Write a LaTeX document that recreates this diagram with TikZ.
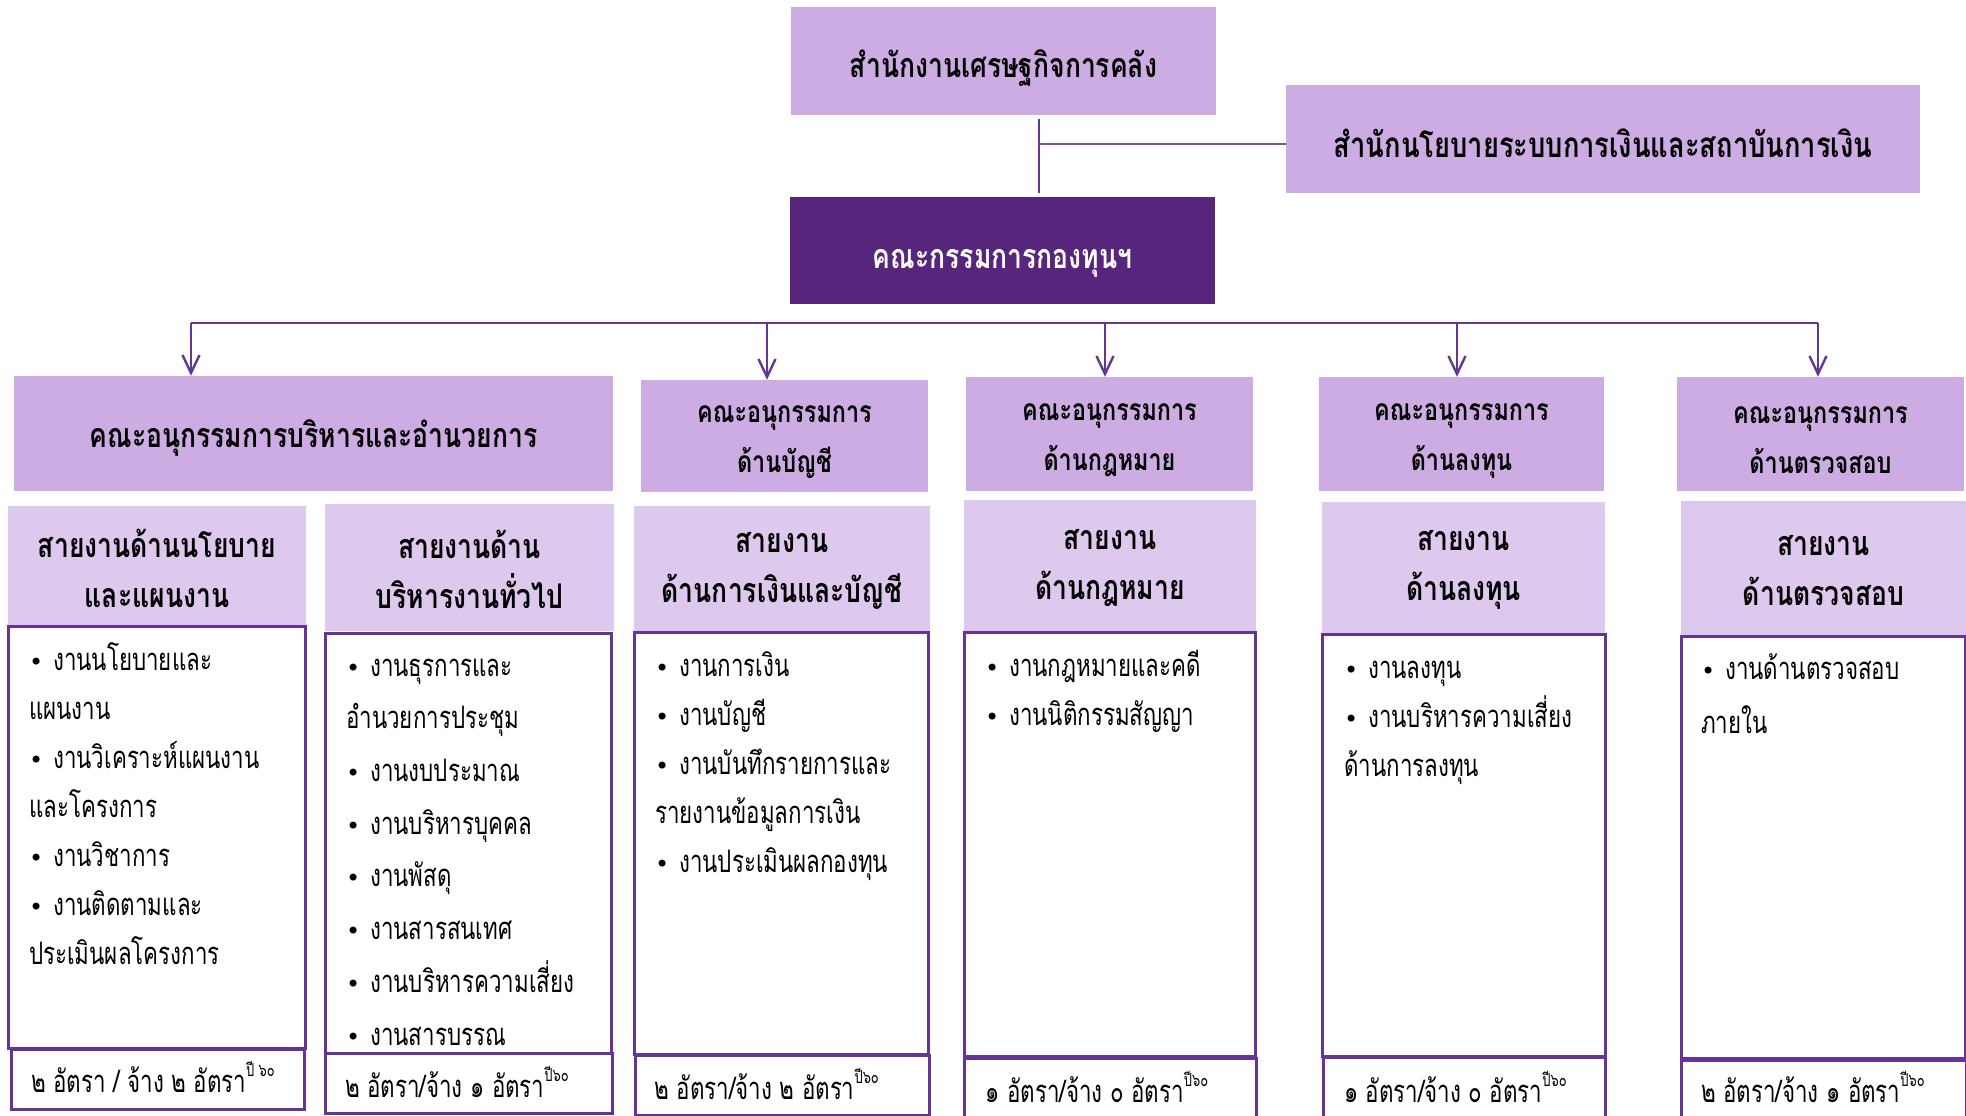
\documentclass[tikz,border=0pt]{standalone}
\usepackage{fontspec}
\newfontfamily\thai[Script=Thai,FakeStretch=0.78]{Loma}
\newfontfamily\thair[Script=Thai,FakeStretch=0.72]{Loma}
\newfontfamily\bulfont{DejaVu Sans}
\usetikzlibrary{arrows.meta}
\definecolor{lilac}{RGB}{205,172,228}
\definecolor{lightlilac}{RGB}{221,200,238}
\definecolor{darkpurple}{RGB}{87,37,124}
\definecolor{bordercol}{RGB}{102,51,153}
\definecolor{linecol}{RGB}{98,56,146}
\newcommand\bul{{\bulfont\fontsize{24}{24}\selectfont •}}
\newcommand\bl{\makebox[24pt][l]{\hspace{0pt}\bul}}
\newcommand\sups[1]{\raisebox{0.5em}{\fontsize{18}{18}\selectfont #1}}
\newcommand\dn[2]{\raisebox{-#1pt}[\height][\depth]{#2}}
\tikzset{
  titlebox/.style={fill=lilac, inner sep=0pt, align=center, font=\thai\bfseries\fontsize{34}{40}\selectfont},
  darkbox/.style={fill=darkpurple, text=white, inner sep=0pt, align=center, font=\thai\bfseries\fontsize{34}{40}\selectfont},
  combox/.style={fill=lilac, inner sep=0pt, align=center, font=\thai\bfseries\fontsize{30}{50}\selectfont},
  headbox/.style={fill=lightlilac, inner sep=0pt, align=center, font=\thai\bfseries\fontsize{34}{50}\selectfont},
  listbox/.style={draw=bordercol, line width=3pt, fill=white, inner sep=0pt},
  footbox/.style={draw=bordercol, line width=3pt, fill=white, inner sep=0pt},
  listtxt/.style={anchor=mid west, inner sep=0pt, font=\thair\fontsize{31}{36}\selectfont},
  conn/.style={draw=linecol, line width=1.4pt},
  conn2/.style={draw=linecol!85, line width=2.2pt},
  bus/.style={draw=linecol, line width=2pt},
  arr/.style={draw=linecol, line width=2.4pt, -{Straight Barb[length=18pt,width=17pt,line width=2.4pt]}}
}
\newcommand\listat[5]{%
  \foreach [count=\i] \itm in {#5} {\node[listtxt] (#1-\i) at (#2, {#3+(\i-1)*#4}) {\itm};}}
\begin{document}
\begin{tikzpicture}[x=1pt,y=-1pt]
\path[use as bounding box] (0,0) rectangle (1966,1116);
\clip (0,0) rectangle (1966,1116);
\fill[white] (0,0) rectangle (1966,1116);
% top level
\node[titlebox, minimum width=425pt, minimum height=108pt] (top) at (1003.5,61) {\dn{7.5}{สำนักงานเศรษฐกิจการคลัง}};
\node[titlebox, minimum width=634pt, minimum height=108pt, font=\thai\bfseries\fontsize{35}{40}\selectfont] (right) at (1603,139) {\dn{4}{สำนักนโยบายระบบการเงินและสถาบันการเงิน}};
\node[darkbox, minimum width=425pt, minimum height=107pt] (dark) at (1002.5,250.5) {\dn{13}{คณะกรรมการกองทุนฯ}};
\coordinate (j) at (1039,144);
\draw[conn] ([yshift=-4pt]top.south -| j) -- ([yshift=4pt]dark.north -| j);
\draw[conn2] (j) -- (right.west |- j);
% committees
\node[combox, minimum width=599pt, minimum height=115pt, font=\thai\bfseries\fontsize{34}{40}\selectfont] (c1) at (313.5,433.5) {\dn{4}{คณะอนุกรรมการบริหารและอำนวยการ}};
\node[combox, minimum width=287pt, minimum height=112pt] (c2) at (784.5,436) {\dn{6.5}{คณะอนุกรรมการ}\\\dn{6.5}{ด้านบัญชี}};
\node[combox, minimum width=287pt, minimum height=114pt] (c3) at (1109.5,434) {\dn{6.5}{คณะอนุกรรมการ}\\\dn{6.5}{ด้านกฎหมาย}};
\node[combox, minimum width=285pt, minimum height=114pt] (c4) at (1461.5,434) {\dn{6.5}{คณะอนุกรรมการ}\\\dn{6.5}{ด้านลงทุน}};
\node[combox, minimum width=287pt, minimum height=114pt] (c5) at (1820.5,434) {\dn{6.5}{คณะอนุกรรมการ}\\\dn{6.5}{ด้านตรวจสอบ}};
% bus and arrows
\coordinate (b1) at (191,323);
\coordinate (b2) at (767,323);
\coordinate (b3) at (1105,323);
\coordinate (b4) at (1457,323);
\coordinate (b5) at (1818,323);
\draw[bus] (b1) -- (b5);
\draw[arr] (b1) -- (b1 |- c1.north);
\draw[arr] (b2) -- (b2 |- c2.north);
\draw[arr] (b3) -- (b3 |- c3.north);
\draw[arr] (b4) -- (b4 |- c4.north);
\draw[arr] (b5) -- (b5 |- c5.north);
% headers
\node[headbox, minimum width=298pt, minimum height=120pt] (h1) at (157,566) {\dn{2}{สายงานด้านนโยบาย}\\\dn{2}{และแผนงาน}};
\node[headbox, minimum width=289pt, minimum height=127pt] (h2) at (469.5,567.5) {\dn{2}{สายงานด้าน}\\\dn{2}{บริหารงานทั่วไป}};
\node[headbox, minimum width=296pt, minimum height=126pt] (h3) at (782,569) {\dn{2}{สายงาน}\\\dn{2}{ด้านการเงินและบัญชี}};
\node[headbox, minimum width=292pt, minimum height=132pt] (h4) at (1110,566) {\dn{2}{สายงาน}\\\dn{2}{ด้านกฎหมาย}};
\node[headbox, minimum width=283pt, minimum height=132pt] (h5) at (1463.5,568) {\dn{2}{สายงาน}\\\dn{2}{ด้านลงทุน}};
\node[headbox, minimum width=285pt, minimum height=135pt] (h6) at (1823.5,568.5) {\dn{2}{สายงาน}\\\dn{2}{ด้านตรวจสอบ}};
% list boxes
\node[listbox, minimum width=297pt, minimum height=422pt] (l1) at (156.5,837) {};
\node[listbox, minimum width=286pt, minimum height=420pt] (l2) at (468,843) {};
\node[listbox, minimum width=294pt, minimum height=422pt] (l3) at (781,843) {};
\node[listbox, minimum width=291pt, minimum height=424pt] (l4) at (1109.5,844) {};
\node[listbox, minimum width=283pt, minimum height=422pt] (l5) at (1463.5,845) {};
\node[listbox, minimum width=284pt, minimum height=422pt] (l6) at (1823,847) {};
% list texts
\listat{t1}{29}{668}{49}{{\bl งานนโยบายและ},{แผนงาน},{\bl งานวิเคราะห์แผนงาน},{และโครงการ},{\bl งานวิชาการ},{\bl งานติดตามและ},{ประเมินผลโครงการ}}
\listat{t2}{346}{674}{52.7}{{\bl งานธุรการและ},{อำนวยการประชุม},{\bl งานงบประมาณ},{\bl งานบริหารบุคคล},{\bl งานพัสดุ},{\bl งานสารสนเทศ},{\bl งานบริหารความเสี่ยง},{\bl งานสารบรรณ}}
\listat{t3}{655}{674}{49}{{\bl งานการเงิน},{\bl งานบัญชี},{\bl งานบันทึกรายการและ},{รายงานข้อมูลการเงิน},{\bl งานประเมินผลกองทุน}}
\listat{t4}{985}{674}{49}{{\bl งานกฎหมายและคดี},{\bl งานนิติกรรมสัญญา}}
\listat{t5}{1344}{676}{49}{{\bl งานลงทุน},{\bl งานบริหารความเสี่ยง},{ด้านการลงทุน}}
\listat{t6}{1701}{677.5}{54}{{\bl งานด้านตรวจสอบ},{ภายใน}}
% footers
\node[footbox, minimum width=293pt, minimum height=60pt] (f1) at (157.5,1079) {};
\node[footbox, minimum width=287pt, minimum height=60pt] (f2) at (468.5,1083) {};
\node[footbox, minimum width=294pt, minimum height=60pt] (f3) at (782,1085) {};
\node[footbox, minimum width=292pt, minimum height=62pt] (f4) at (1110,1089) {};
\node[footbox, minimum width=282pt, minimum height=63pt] (f5) at (1464,1088.5) {};
\node[footbox, minimum width=285pt, minimum height=62pt] (f6) at (1823.5,1091) {};
\node[listtxt] (ft1) at (31,1090) {๒ อัตรา / จ้าง ๒ อัตรา\sups{ปี ๖๐}};
\node[listtxt] (ft2) at (345,1095) {๒ อัตรา/จ้าง ๑ อัตรา\sups{ปี๖๐}};
\node[listtxt] (ft3) at (654.5,1097) {๒ อัตรา/จ้าง ๒ อัตรา\sups{ปี๖๐}};
\node[listtxt] (ft4) at (985.5,1100) {๑ อัตรา/จ้าง ๐ อัตรา\sups{ปี๖๐}};
\node[listtxt] (ft5) at (1344,1100) {๑ อัตรา/จ้าง ๐ อัตรา\sups{ปี๖๐}};
\node[listtxt] (ft6) at (1701,1100) {๒ อัตรา/จ้าง ๑ อัตรา\sups{ปี๖๐}};
\end{tikzpicture}
\end{document}
